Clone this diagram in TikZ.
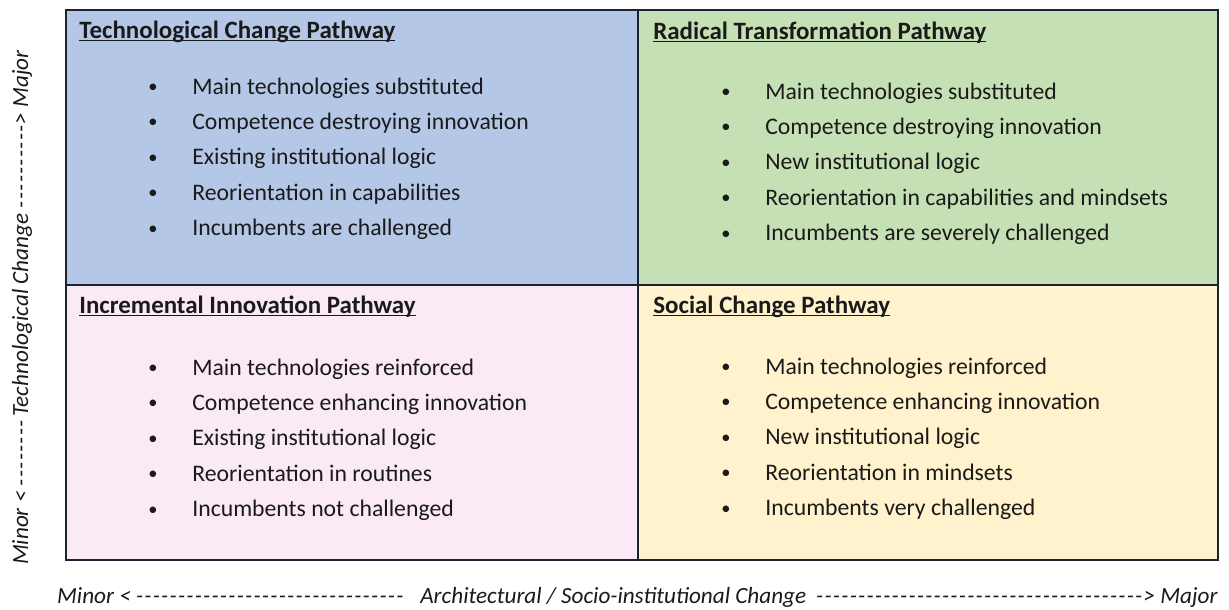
\documentclass[tikz,border=0pt]{standalone}
\usepackage{fontspec}
\setmainfont{Carlito}
\usepackage{xcolor}
\usepackage{tikz}
\usetikzlibrary{positioning}

\definecolor{techblue}{HTML}{B4C7E7}
\definecolor{radgreen}{HTML}{C5E0B4}
\definecolor{incpink}{HTML}{F9EAF5}
\definecolor{socyellow}{HTML}{FFF2CC}
\definecolor{framecol}{HTML}{1C2230}
\definecolor{textcol}{HTML}{1A1A1A}

\newcommand{\pathhead}[1]{\underline{\smash{#1}}}
\newcommand{\dashrun}[1]{\foreach \k in {1,...,#1}{\makebox[0.168cm][l]{-}}}
\newcommand{\dotmark}{\raisebox{0.9pt}{\fontsize{10.5}{10.5}\selectfont\textbullet}}

\tikzset{
    quad/.style={draw=framecol, line width=1.3pt, anchor=north west, inner sep=0pt, minimum height=5.5cm},
    headtext/.style={anchor=base west, inner sep=0pt, text=textcol, font=\fontsize{14.2}{16}\selectfont\bfseries},
    itemlist/.style={anchor=base west, inner sep=0pt, text=textcol, font=\fontsize{13.5}{20.2}\selectfont},
    axistext/.style={inner sep=0pt, text=textcol, font=\fontsize{13.2}{15}\selectfont\itshape}
}

\begin{document}
\begin{tikzpicture}[x=0.02cm, y=-0.02cm]
    \useasboundingbox (0,0) rectangle (1229,609);
    \node[quad, fill=techblue, minimum width=11.44cm] (techq) at (65,9) {};
    \node[quad, fill=radgreen, minimum width=11.6cm] (radq) at (637,9) {};
    \node[quad, fill=incpink, minimum width=11.44cm] (incq) at (65,284) {};
    \node[quad, fill=socyellow, minimum width=11.6cm] (socq) at (637,284) {};

    \node[headtext] (techhead) at (79,38) {\pathhead{Technological Change Pathway}};
    \node[itemlist] (techlist) at (148,94) {\begin{tabular}[t]{@{}p{0.88cm}@{}l@{}}
        \dotmark & Main technologies substituted\\
        \dotmark & Competence destroying innovation\\
        \dotmark & Existing institutional logic\\
        \dotmark & Reorientation in capabilities\\
        \dotmark & Incumbents are challenged
    \end{tabular}};

    \node[headtext] (radhead) at (653,39) {\pathhead{Radical Transformation Pathway}};
    \node[itemlist] (radlist) at (721,99) {\begin{tabular}[t]{@{}p{0.88cm}@{}l@{}}
        \dotmark & Main technologies substituted\\
        \dotmark & Competence destroying innovation\\
        \dotmark & New institutional logic\\
        \dotmark & Reorientation in capabilities and mindsets\\
        \dotmark & Incumbents are severely challenged
    \end{tabular}};

    \node[headtext] (inchead) at (79,313) {\pathhead{Incremental Innovation Pathway}};
    \node[itemlist] (inclist) at (148,375) {\begin{tabular}[t]{@{}p{0.88cm}@{}l@{}}
        \dotmark & Main technologies reinforced\\
        \dotmark & Competence enhancing innovation\\
        \dotmark & Existing institutional logic\\
        \dotmark & Reorientation in routines\\
        \dotmark & Incumbents not challenged
    \end{tabular}};

    \node[headtext] (sochead) at (653,313) {\pathhead{Social Change Pathway}};
    \node[itemlist] (soclist) at (721,374) {\begin{tabular}[t]{@{}p{0.88cm}@{}l@{}}
        \dotmark & Main technologies reinforced\\
        \dotmark & Competence enhancing innovation\\
        \dotmark & New institutional logic\\
        \dotmark & Reorientation in mindsets\\
        \dotmark & Incumbents very challenged
    \end{tabular}};

    \node[axistext, rotate=90] (techaxis) at (22,307.5) {\makebox[10.3cm]{Minor < \dashrun{8}\hfill Technological Change \dashrun{10}> Major}};
    \node[axistext] (archaxis) at (637.5,597) {\makebox[23.22cm]{Minor < \dashrun{32}\hfill Architectural / Socio-institutional Change\hspace{0.2cm}\dashrun{39}> Major}};
\end{tikzpicture}
\end{document}
